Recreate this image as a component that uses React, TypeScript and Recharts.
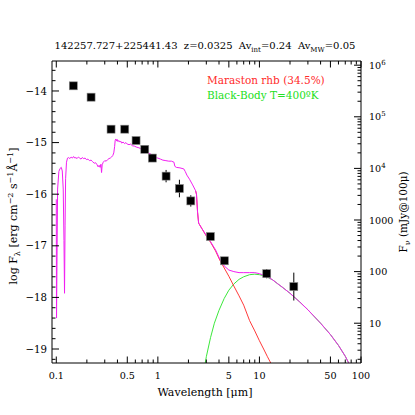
import React from 'react';
import { ComposedChart, Line, Scatter, XAxis, YAxis, ErrorBar } from 'recharts';

// ---------- data ----------
const objectName = '142257.727+225441.43';
const redshift = '0.0325';
const avInt = '0.24';
const avMW = '0.05';
const stellarLegend = 'Maraston rhb (34.5%)';
const bbLegend = 'Black-Body T=400\u00baK';

// photometry (wavelength in micron, log F_lambda)
const photLam = [0.147, 0.22, 0.346, 0.472, 0.61, 0.743, 0.883, 1.205, 1.63, 2.11, 3.29, 4.52, 11.8, 21.8];
const photLogF = [-13.9, -14.12, -14.74, -14.74, -14.96, -15.13, -15.3, -15.65, -15.89, -16.13, -16.82, -17.29, -17.54, -17.79];
const photErr = [0, 0, 0, 0, 0, 0, 0, 0.12, 0.17, 0.11, 0, 0, 0.09, 0.27];

// total model (stellar + black body)
const totalLam = [0.1, 0.1005, 0.103, 0.106, 0.109, 0.112, 0.1145, 0.117, 0.119, 0.1205, 0.122, 0.1235, 0.126, 0.129, 0.132, 0.136, 0.14, 0.144, 0.148, 0.152, 0.156, 0.16, 0.165, 0.17, 0.175, 0.18, 0.186, 0.192, 0.198, 0.205, 0.212, 0.22, 0.228, 0.236, 0.244, 0.252, 0.258, 0.264, 0.27, 0.275, 0.279, 0.283, 0.29, 0.3, 0.31, 0.32, 0.33, 0.34, 0.35, 0.36, 0.368, 0.375, 0.38, 0.386, 0.392, 0.398, 0.405, 0.412, 0.42, 0.43, 0.44, 0.455, 0.47, 0.485, 0.5, 0.52, 0.54, 0.56, 0.59, 0.62, 0.65, 0.68, 0.71, 0.75, 0.8, 0.85, 0.9, 0.95, 1.0, 1.06, 1.12, 1.2, 1.28, 1.36, 1.44, 1.47, 1.52, 1.65, 1.8, 1.86, 1.93, 2.05, 2.2, 2.35, 2.4, 2.46, 2.52, 2.7, 3.0, 3.3, 3.7, 4.1, 4.5, 5.0, 5.6, 6.3, 7.0, 8.0, 9.0, 10.0, 11.0, 12.0, 13.5, 15.0, 17.0, 20.0, 25.0, 30.0, 40.0, 50.0, 60.0, 70.0, 77.0];
const totalLogF = [-16.1, -18.4, -15.9, -15.56, -15.5, -15.48, -15.55, -15.9, -16.9, -17.92, -16.6, -15.7, -15.38, -15.3, -15.29, -15.31, -15.28, -15.3, -15.27, -15.3, -15.29, -15.31, -15.28, -15.3, -15.32, -15.29, -15.31, -15.3, -15.33, -15.32, -15.35, -15.34, -15.37, -15.4, -15.39, -15.43, -15.47, -15.44, -15.48, -15.42, -15.58, -15.43, -15.38, -15.35, -15.36, -15.33, -15.31, -15.3, -15.28, -15.25, -15.2, -15.08, -14.96, -14.93, -14.97, -14.94, -14.98, -14.96, -14.99, -14.97, -15.01, -14.99, -15.02, -15.0, -15.03, -15.04, -15.03, -15.06, -15.07, -15.09, -15.1, -15.12, -15.13, -15.16, -15.2, -15.22, -15.26, -15.29, -15.3, -15.32, -15.34, -15.35, -15.36, -15.36, -15.38, -15.46, -15.48, -15.49, -15.51, -15.56, -15.63, -15.71, -15.82, -15.93, -16.0, -16.35, -16.56, -16.66, -16.8, -16.92, -17.08, -17.27, -17.39, -17.47, -17.5, -17.52, -17.52, -17.52, -17.52, -17.54, -17.57, -17.6, -17.66, -17.73, -17.81, -17.92, -18.09, -18.24, -18.5, -18.72, -18.93, -19.14, -19.3];

// stellar model (visible part)
const stellarLam = [2.35, 2.4, 2.46, 2.52, 2.7, 3.0, 3.3, 3.7, 4.1, 4.5, 5.0, 5.6, 6.3, 7.0, 8.0, 9.0, 10.0, 11.0, 12.0, 13.0, 14.0];
const stellarLogF = [-15.93, -16.0, -16.35, -16.56, -16.66, -16.81, -16.93, -17.1, -17.29, -17.43, -17.59, -17.78, -17.97, -18.15, -18.45, -18.65, -18.84, -19.0, -19.15, -19.28, -19.42];

// black body
const bbLam = [2.85, 3.0, 3.3, 3.6, 4.0, 4.5, 5.0, 5.6, 6.3, 7.0, 8.0, 9.0, 10.0, 11.0, 12.0, 13.5, 15.0, 17.0, 20.0, 25.0, 30.0, 40.0, 50.0, 60.0, 70.0, 77.0];
const bbLogF = [-19.4, -19.15, -18.78, -18.5, -18.25, -18.02, -17.86, -17.74, -17.65, -17.6, -17.56, -17.55, -17.56, -17.58, -17.61, -17.66, -17.73, -17.81, -17.92, -18.09, -18.24, -18.5, -18.72, -18.93, -19.14, -19.3];

// axes
const xTickLam = [0.1, 0.2, 0.3, 0.4, 0.5, 0.6, 0.7, 0.8, 0.9, 1, 2, 3, 4, 5, 6, 7, 8, 9, 10, 20, 30, 40, 50, 60, 70, 80, 90, 100];
const xLabelLam = [0.1, 0.5, 1, 5, 10, 50, 100];
const xLabelText = ['0.1', '0.5', '1', '5', '10', '50', '100'];
const yMajor = [-19, -18, -17, -16, -15, -14];
const rightDecades = [1, 2, 3, 4, 5, 6];
const rightLabelBase = ['10', '100', '1000', '10', '10', '10'];
const rightLabelSup = ['', '', '', '4', '5', '6'];

// ---------- layout constants ----------
const W = 415;
const H = 415;
const PL = 52;
const PR = 361;
const PT = 61;
const PB = 363;
const X_DOMAIN: [number, number] = [-1.0423, 2];
const Y_DOMAIN: [number, number] = [-19.271, -13.419];
const FNU_OFFSET = 19.5;
const R_DOMAIN: [number, number] = [Y_DOMAIN[0] + FNU_OFFSET, Y_DOMAIN[1] + FNU_OFFSET];
const FONT = 'DejaVu Serif';
const MAGENTA = '#f21ef2';
const RED = '#ff3a3a';
const GREEN = '#3ce83c';

const toPts = (lam: number[], f: number[]) => lam.map((l, i) => ({ x: Math.log10(l), y: f[i] }));
const totalData = toPts(totalLam, totalLogF);
const stellarData = toPts(stellarLam, stellarLogF);
const bbData = toPts(bbLam, bbLogF);
const photData = photLam.map((l, i) => ({ x: Math.log10(l), y: photLogF[i], err: photErr[i] }));

const xTicks = xTickLam.map((l) => Math.log10(l));
const yTicks: number[] = [];
[-20, -19, -18, -17, -16, -15, -14].forEach((m) => {
  [0, 0.2, 0.4, 0.6, 0.8].forEach((d) => {
    const v = Math.round((m + d) * 10) / 10;
    if (v >= Y_DOMAIN[0] && v <= Y_DOMAIN[1]) yTicks.push(v);
  });
});
const rTicks: number[] = [];
[0, 1, 2, 3, 4, 5, 6].forEach((n) => {
  [1, 2, 3, 4, 5, 6, 7, 8, 9].forEach((k) => {
    const v = n + Math.log10(k);
    if (v >= R_DOMAIN[0] && v <= R_DOMAIN[1]) rTicks.push(v);
  });
});

const labelIndex = (v: number) => xLabelLam.findIndex((l) => Math.abs(Math.log10(l) - v) < 1e-6);

const BottomTick = (props: any) => {
  const { x, payload } = props;
  const idx = labelIndex(payload.value);
  const len = idx >= 0 ? 6.5 : 3.5;
  return (
    <g>
      <line x1={x} x2={x} y1={PB} y2={PB - len} stroke="#000" strokeWidth={1} />
      {idx >= 0 && (
        <text x={x} y={379} textAnchor="middle" fontFamily={FONT} fontSize={9.6} fill="#000">
          {xLabelText[idx]}
        </text>
      )}
    </g>
  );
};

const TopTick = (props: any) => {
  const { x, payload } = props;
  const idx = labelIndex(payload.value);
  const len = idx >= 0 ? 6.5 : 3.5;
  return <line x1={x} x2={x} y1={PT} y2={PT + len} stroke="#000" strokeWidth={1} />;
};

const LeftTick = (props: any) => {
  const { y, payload } = props;
  const v = payload.value;
  const major = Math.abs(v - Math.round(v)) < 1e-6;
  const len = major ? 7 : 3.5;
  return (
    <g>
      <line x1={PL} x2={PL + len} y1={y} y2={y} stroke="#000" strokeWidth={1} />
      {major && (
        <text x={47} y={y + 3.6} textAnchor="end" fontFamily={FONT} fontSize={10.2} fill="#000">
          {'\u2212' + String(Math.abs(Math.round(v)))}
        </text>
      )}
    </g>
  );
};

const RightTick = (props: any) => {
  const { y, payload } = props;
  const v = payload.value;
  const di = rightDecades.findIndex((d) => Math.abs(d - v) < 1e-6);
  const major = Math.abs(v - Math.round(v)) < 1e-6;
  const len = major ? 7 : 3.5;
  return (
    <g>
      <line x1={PR} x2={PR - len} y1={y} y2={y} stroke="#000" strokeWidth={1} />
      {di >= 0 && (
        <text x={369} y={y + 3.6} textAnchor="start" fontFamily={FONT} fontSize={9.6} fill="#000">
          {rightLabelBase[di]}
          {rightLabelSup[di] && (
            <tspan dy={-4} fontSize={7}>
              {rightLabelSup[di]}
            </tspan>
          )}
        </text>
      )}
    </g>
  );
};

const Square = (props: any) => {
  const { cx, cy } = props;
  return <rect x={cx - 4} y={cy - 4} width={8} height={8} fill="#000" stroke="#888" strokeWidth={0.6} />;
};

export default function App() {
  return (
    <div style={{ position: 'absolute', left: 0, top: 0, width: W, height: H, background: '#fff' }}>
      <ComposedChart
        width={W}
        height={H}
        margin={{ top: PT - 30, right: W - PR - 44, bottom: H - PB - 40, left: 0 }}
      >
        <XAxis
          xAxisId="b"
          type="number"
          dataKey="x"
          domain={X_DOMAIN}
          allowDataOverflow
          ticks={xTicks}
          interval={0}
          tick={BottomTick}
          tickLine={false}
          axisLine={{ stroke: '#000' }}
          height={40}
          orientation="bottom"
        />
        <XAxis
          xAxisId="t"
          type="number"
          dataKey="x"
          domain={X_DOMAIN}
          allowDataOverflow
          ticks={xTicks}
          interval={0}
          tick={TopTick}
          tickLine={false}
          axisLine={{ stroke: '#000' }}
          height={30}
          orientation="top"
        />
        <YAxis
          yAxisId="l"
          type="number"
          domain={Y_DOMAIN}
          allowDataOverflow
          ticks={yTicks}
          interval={0}
          tick={LeftTick}
          tickLine={false}
          axisLine={{ stroke: '#000' }}
          width={PL}
          orientation="left"
        />
        <YAxis
          yAxisId="r"
          type="number"
          domain={R_DOMAIN}
          allowDataOverflow
          ticks={rTicks}
          interval={0}
          tick={RightTick}
          tickLine={false}
          axisLine={{ stroke: '#000' }}
          width={44}
          orientation="right"
        />
        <Line data={bbData} dataKey="y" xAxisId="b" yAxisId="l" type="linear" stroke={GREEN} strokeWidth={1} dot={false} isAnimationActive={false} />
        <Line data={stellarData} dataKey="y" xAxisId="b" yAxisId="l" type="linear" stroke={RED} strokeWidth={1} dot={false} isAnimationActive={false} />
        <Line data={totalData} dataKey="y" xAxisId="b" yAxisId="l" type="linear" stroke={MAGENTA} strokeWidth={1} dot={false} isAnimationActive={false} />
        <Scatter data={photData} dataKey="y" xAxisId="b" yAxisId="l" shape={Square} isAnimationActive={false}>
          <ErrorBar dataKey="err" direction="y" width={0} stroke="#000" strokeWidth={1} />
        </Scatter>
      </ComposedChart>
      <svg width={W} height={H} style={{ position: 'absolute', left: 0, top: 0, pointerEvents: 'none' }}>
        <text x={205} y={49} textAnchor="middle" fontFamily={FONT} fontSize={10} fill="#000" style={{ whiteSpace: 'pre' }}>
          {objectName + '  z=' + redshift + '  Av'}
          <tspan dy={2.5} fontSize={7}>int</tspan>
          <tspan dy={-2.5}>{'=' + avInt + '  Av'}</tspan>
          <tspan dy={2.5} fontSize={7}>MW</tspan>
          <tspan dy={-2.5}>{'=' + avMW}</tspan>
        </text>
        <text x={207} y={84} fontFamily={FONT} fontSize={10.5} fill="#ff2a2a">{stellarLegend}</text>
        <text x={207} y={99} fontFamily={FONT} fontSize={10.5} fill="#22e022">{bbLegend}</text>
        <text x={205} y={396} textAnchor="middle" fontFamily={FONT} fontSize={11} fill="#000">
          {'Wavelength [\u03bcm]'}
        </text>
        <text transform="translate(17,216) rotate(-90)" textAnchor="middle" fontFamily={FONT} fontSize={11} fill="#000">
          {'log F'}
          <tspan dy={2.5} fontSize={8}>{'\u03bb'}</tspan>
          <tspan dy={-2.5}>{' [erg cm'}</tspan>
          <tspan dy={-4} fontSize={8}>{'\u22122'}</tspan>
          <tspan dy={4}>{' s'}</tspan>
          <tspan dy={-4} fontSize={8}>{'\u22121'}</tspan>
          <tspan dy={4}>{'\u00c5'}</tspan>
          <tspan dy={-4} fontSize={8}>{'\u22121'}</tspan>
          <tspan dy={4}>{']'}</tspan>
        </text>
        <text transform="translate(407,212) rotate(-90)" textAnchor="middle" fontFamily={FONT} fontSize={10.5} fill="#000">
          {'F'}
          <tspan dy={2.5} fontSize={8}>{'\u03bd'}</tspan>
          <tspan dy={-2.5}>{' (mJy@100\u03bc)'}</tspan>
        </text>
      </svg>
    </div>
  );
}
